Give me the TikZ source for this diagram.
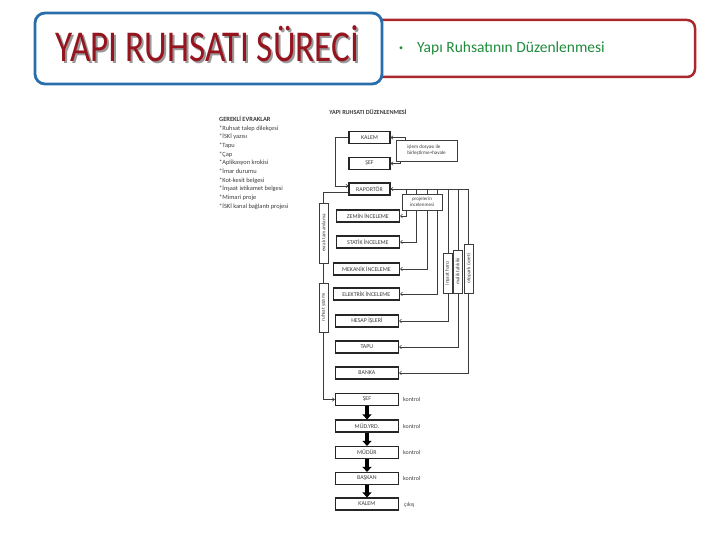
\documentclass[tikz,border=0pt]{standalone}
\usepackage{fontspec}
\setmainfont{Carlito}
\usepackage{graphicx}
\usetikzlibrary{arrows.meta,positioning,calc}
\definecolor{Ink}{RGB}{60,60,60}
\definecolor{TitleRed}{RGB}{150,20,30}
\definecolor{FrameBlue}{RGB}{40,110,170}
\definecolor{FrameRed}{RGB}{170,40,45}
\definecolor{SubGreen}{RGB}{30,140,60}
\newcommand{\boxfont}{\fontsize{5.9}{6.5}\selectfont}
\tikzset{
  pbox/.style={rectangle,draw=black!85,line width=1.2pt,fill=white,text=Ink,
               font=\boxfont,minimum width=63pt,minimum height=12pt,
               inner sep=1pt,anchor=east},
  sbox/.style={pbox,minimum width=41pt,anchor=center},
  nbox/.style={rectangle,draw=Ink,line width=0.6pt,fill=white,text=Ink,
               font=\fontsize{5.1}{6.3}\selectfont,inner sep=2pt},
  lbox/.style={rectangle,draw=Ink,line width=0.6pt,fill=white,text=Ink,
               font=\fontsize{5.2}{5.5}\selectfont,rotate=90,inner sep=1pt,
               minimum height=9pt},
  pedge/.style={draw=Ink,line width=0.6pt,-{Straight Barb[length=2pt,width=3.5pt]}},
  barrow/.style={draw=black,line width=4pt,-{Triangle[length=5pt,width=9pt]}},
  klabel/.style={text=Ink,font=\boxfont,anchor=west,inner sep=0pt},
}

\begin{document}
\begin{tikzpicture}[x=1pt,y=-1pt]
  \useasboundingbox (0,0) rectangle (720,540);
  % header frames
  \draw[FrameRed,line width=2.5pt,rounded corners=8pt,fill=white]
    (360,20) rectangle (695,77);
  \draw[FrameBlue,line width=2.8pt,rounded corners=10pt,fill=white]
    (35,13) rectangle (382,84);
  \node[anchor=base,text=black!40] (titleshadow) at (209.5,64)
    {\scalebox{0.8}[1]{\fontsize{44}{44}\selectfont YAPI RUHSATI SÜRECİ}};
  \node[anchor=base,text=TitleRed] (title) at (207.5,62)
    {\scalebox{0.8}[1]{\fontsize{44}{44}\selectfont YAPI RUHSATI SÜRECİ}};
  \node[text=SubGreen,font=\fontsize{8}{8}\selectfont] (bullet) at (401,49) {•};
  \node[anchor=base west,text=SubGreen,font=\fontsize{15.5}{15.5}\selectfont,inner sep=0pt]
    (subtitle) at (417,52.5) {Yapı Ruhsatının Düzenlenmesi};

  % headings and list
  \node[text=Ink,font=\fontsize{6.2}{6.5}\selectfont\bfseries] (head) at (368,112)
    {YAPI RUHSATI DÜZENLENMESİ};
  \node[anchor=north west,align=left,text=Ink,inner sep=0pt,
        font=\fontsize{6.4}{8.65}\selectfont] (docs) at (219,116)
    {\textbf{GEREKLİ EVRAKLAR}\\
     *Ruhsat talep dilekçesi\\
     *İSKİ yazısı\\
     *Tapu\\
     *Çap\\
     *Aplikasyon krokisi\\
     *İmar durumu\\
     *Kot-kesit belgesi\\
     *İnşaat istikamet belgesi\\
     *Mimari proje\\
     *İSKİ kanal bağlantı projesi};

  % upper boxes
  \node[sbox] (kalemA) at (369.5,137.5) {KALEM};
  \node[sbox] (sefA) at (369.5,163.5) {ŞEF};
  \node[sbox] (rapor) at (369.5,189) {RAPORTÖR};
  \node[nbox,align=left,minimum width=61pt,minimum height=21pt] (havale) at (426.5,150.5)
    {işlem dosyası ile\\birleştirme+havale};

  % inspection boxes
  \node[pbox] (zemin) at (400,216) {ZEMİN İNCELEME};
  \node[pbox] (statik) at (400,242) {STATİK İNCELEME};
  \node[pbox,minimum width=66pt] (mekanik) at (400,269) {MEKANİK İNCELEME};
  \node[pbox,minimum width=66pt] (elektrik) at (400,294) {ELEKTRİK İNCELEME};
  \node[pbox] (hesap) at (399,321) {HESAP İŞLERİ};
  \node[pbox] (tapu) at (399,347) {TAPU};
  \node[pbox] (banka) at (399,373) {BANKA};

  % approval chain
  \node[pbox] (sefB) at (399,399.5) {ŞEF};
  \node[pbox] (mudyrd) at (399,426) {MÜD.YRD.};
  \node[pbox] (mudur) at (399,452.5) {MÜDÜR};
  \node[pbox] (baskan) at (399,478.5) {BAŞKAN};
  \node[pbox] (kalemB) at (399,504) {KALEM};
  \node[klabel] (k1) at (403,399.5) {kontrol};
  \node[klabel] (k2) at (403,426) {kontrol};
  \node[klabel] (k3) at (403,452.5) {kontrol};
  \node[klabel] (k4) at (403,478.5) {kontrol};
  \node[klabel] (k5) at (404,505) {çıkış};
  \draw[barrow] (sefB.south -| 367,0) coordinate (b1) -- (b1 |- mudyrd.north);
  \draw[barrow] (mudyrd.south -| 367,0) coordinate (b2) -- (b2 |- mudur.north);
  \draw[barrow] (mudur.south -| 367,0) coordinate (b3) -- (b3 |- baskan.north);
  \draw[barrow] (baskan.south -| 367,0) coordinate (b4) -- (b4 |- kalemB.north);

  % upper connectors
  \draw[pedge] ([xshift=-21pt]havale.north) |- (kalemA.east);
  \draw[pedge] ([xshift=-26pt]havale.south) |- (sefA.east);
  \draw[pedge] (kalemA.west) -- ++(-13,0) |- ([yshift=3pt]rapor.west);

  % left return line
  \coordinate (lc) at (323,0);
  \draw[pedge] ([yshift=-3pt]rapor.west) -| (lc |- sefB.west) -- (sefB.west);
  \node[lbox,minimum width=60pt] (evrak) at (323.5,233) {evrak tamamlama};
  \node[lbox,minimum width=49pt] (ruhsat) at (323.5,307.5) {ruhsat yazımı};

  % right side lines
  \coordinate (rt) at (468,0);
  \draw[pedge] (rt |- rapor.east) -- (rapor.east);
  \foreach \xx/\tgt in {406/zemin,416/statik,427/mekanik,437/elektrik,448/hesap,458/tapu,468/banka}
    \draw[pedge] (\xx,189) |- (\tgt.east);
  \node[nbox,align=center,minimum width=40pt,minimum height=16pt,
        font=\fontsize{5}{6.3}\selectfont] (proje) at (422,202)
    {projelerin\\incelenmesi};
  \node[lbox,minimum width=40pt] (harc) at (447.5,273) {inşaat harcı};
  \node[lbox,minimum width=43pt] (malik) at (457.5,271.5) {malik tahkiki};
  \node[lbox,minimum width=49pt] (otopark) at (469,268.5) {otopark ücreti};
\end{tikzpicture}
\end{document}
